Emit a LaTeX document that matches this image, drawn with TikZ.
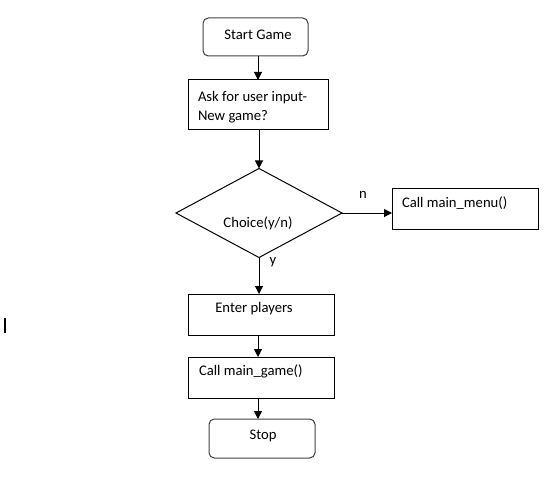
\documentclass[tikz,border=0pt]{standalone}
\usepackage{fontspec}
\setmainfont{Carlito}
\usetikzlibrary{shapes.geometric,arrows.meta}
\begin{document}
\begin{tikzpicture}[x=0.75pt,y=-0.75pt,
  font=\fontsize{11pt}{14pt}\selectfont,
  every node/.style={inner sep=0pt, outer sep=0pt},
  procbox/.style={draw, line width=0.75pt, rectangle},
  termbox/.style={draw=black!75, line width=0.75pt, rectangle, rounded corners=4pt},
  decbox/.style={draw, line width=0.75pt, diamond, aspect=1.865},
  flow/.style={line width=0.75pt, -{Triangle[length=6pt,width=6pt]}},
  boxtext/.style={anchor=west, align=left}
]
\useasboundingbox (0,0) rectangle (555,488);
% stray cursor mark
\draw[line width=1.5pt] (5,318) coordinate (c1) -- (5,333) coordinate (c2);

\node[termbox, minimum width=78.75pt, minimum height=28.5pt] (start) at (255.5,37) {};
\node (starttext) at (258,35) {Start Game};

\node[procbox, minimum width=105pt, minimum height=37.5pt] (ask) at (258,105) {};
\node[boxtext] (asktext) at (198,107.5) {Ask for user input-\\New game?};

\node[decbox, minimum width=124.5pt, minimum height=66.75pt] (choice) at (259,213) {};
\node (choicetext) at (258,223) {Choice(y/n)};

\node[procbox, minimum width=109.5pt, minimum height=30.75pt] (menu) at (465,208.5) {};
\node[boxtext] (menutext) at (402,203.5) {Call main\_menu()};

\node[procbox, minimum width=109.5pt, minimum height=30.75pt] (enter) at (261,314.5) {};
\node (entertext) at (254,308.5) {Enter players};

\node[procbox, minimum width=109.5pt, minimum height=30.75pt] (game) at (261,377.5) {};
\node[boxtext] (gametext) at (199,371.5) {Call main\_game()};

\node[termbox, minimum width=79.5pt, minimum height=29.25pt] (stop) at (262,438.5) {};
\node (stoptext) at (263,436) {Stop};

\draw[flow] (start.south -| ask.north) -- (ask.north);
\draw[flow] (ask.south -| choice.north) -- (choice.north);
\draw[flow] (choice.east) -- node[pos=0.42, yshift=13.5pt] (nlab) {n} (choice.east -| menu.west);
\draw[flow] (choice.south) -- node[pos=0.1, xshift=10.5pt, yshift=-1pt] (ylab) {y} (enter.north -| choice.south);
\draw[flow] (enter.south -| ask.south) -- (game.north -| ask.south);
\draw[flow] (game.south -| ask.south) -- (stop.north -| ask.south);
\end{tikzpicture}
\end{document}
